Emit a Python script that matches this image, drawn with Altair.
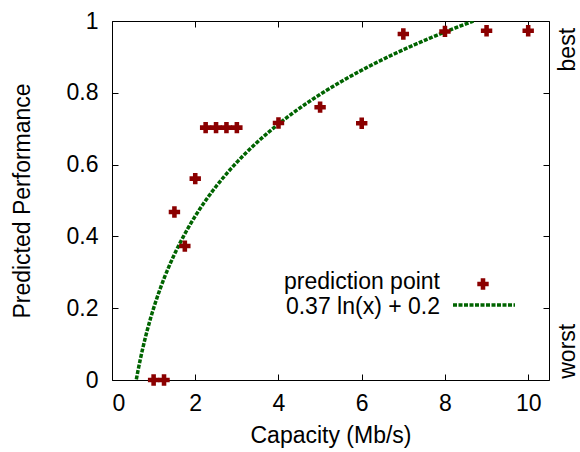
import altair as alt
import pandas as pd

# prediction points
capacity = [1.0, 1.25, 1.5, 1.75, 2.0, 2.25, 2.5, 2.75, 3.0, 4.0, 5.0, 6.0, 7.0, 8.0, 9.0, 10.0]
performance = [0.0, 0.0, 0.468, 0.373, 0.561, 0.703, 0.703, 0.703, 0.703, 0.716, 0.760, 0.715, 0.964, 0.971, 0.973, 0.973]

# fitted curve: a * ln(x) + b
fit_a = 0.37
fit_b = 0.2
fit_label = "0.37 ln(x) + 0.2"
point_label = "prediction point"

x_ticks = [0, 2, 4, 6, 8, 10]
y_ticks = [0, 0.2, 0.4, 0.6, 0.8, 1.0]
side_labels = ["best", "worst"]
side_values = [0.92, 0.08]

RED = "#8b0000"
GREEN = "#006400"
FONT = "Liberation Sans"
FS = 23

W, H = 437, 359

df = pd.DataFrame({"capacity": capacity, "performance": performance})

xscale = alt.Scale(domain=[0, 10.5], nice=False, zero=False)
yscale = alt.Scale(domain=[0, 1], nice=False, zero=False)

tick_axis = dict(domain=False, grid=False, tickSize=6, tickColor="black", offset=-6)
text_axis = dict(
    labelFont=FONT, labelFontSize=FS, labelColor="black",
    titleFont=FONT, titleFontSize=FS, titleColor="black", titleFontWeight="normal",
)

points = alt.Chart(df).mark_point(
    shape="cross", filled=True, size=130, color=RED, opacity=1
).encode(
    x=alt.X("capacity:Q", scale=xscale,
            axis=alt.Axis(orient="bottom", values=x_ticks, format="d",
                          title="Capacity (Mb/s)", labelPadding=12, titlePadding=9,
                          **tick_axis, **text_axis)),
    y=alt.Y("performance:Q", scale=yscale,
            axis=alt.Axis(orient="left", values=y_ticks, format=".1~f",
                          title="Predicted Performance", labelPadding=14, titlePadding=32,
                          **tick_axis, **text_axis)),
)

curve = alt.Chart(alt.sequence(0.5, 8.8, 0.005, as_="x")).transform_calculate(
    y=f"{fit_a} * log(datum.x) + {fit_b}"
).transform_filter(
    "datum.y >= 0 && datum.y <= 1.0"
).mark_line(
    color=GREEN, strokeWidth=3.5, strokeDash=[4, 1.5], clip=True
).encode(
    x=alt.X("x:Q", scale=xscale,
            axis=alt.Axis(orient="top", values=x_ticks, labels=False, title=None, **tick_axis)),
    y=alt.Y("y:Q", scale=yscale,
            axis=alt.Axis(orient="right", values=y_ticks, labels=False, title=None, **tick_axis)),
)

side = alt.Chart(pd.DataFrame({"label": side_labels, "value": side_values})).mark_text(
    angle=270, font=FONT, fontSize=FS, color="black", align="center", baseline="middle"
).encode(
    x=alt.value(W + 19),
    y=alt.Y("value:Q", scale=yscale, axis=None),
    text="label:N",
)

leg_text1 = alt.Chart(pd.DataFrame({"t": [point_label]})).mark_text(
    font=FONT, fontSize=FS, color="black", align="right", baseline="middle"
).encode(x=alt.value(328), y=alt.value(261), text="t:N")

leg_text2 = alt.Chart(pd.DataFrame({"t": [fit_label]})).mark_text(
    font=FONT, fontSize=FS, color="black", align="right", baseline="middle"
).encode(x=alt.value(328), y=alt.value(286), text="t:N")

leg_sym = alt.Chart(pd.DataFrame({"t": [point_label]})).mark_point(
    shape="cross", filled=True, size=130, color=RED, opacity=1
).encode(x=alt.value(371), y=alt.value(263))

leg_line = alt.Chart(pd.DataFrame({"t": [fit_label]})).mark_rule(
    color=GREEN, strokeWidth=3.5, strokeDash=[4, 1.5]
).encode(x=alt.value(341), x2=alt.value(403), y=alt.value(284))

chart = alt.layer(
    curve, points, side, leg_text1, leg_text2, leg_sym, leg_line
).resolve_axis(
    x="independent", y="independent"
).properties(
    width=W, height=H,
    autosize=alt.AutoSizeParams(type="none"),
    padding={"left": 112, "top": 21, "right": 31, "bottom": 72},
    background="white",
).configure_view(
    stroke="black", strokeWidth=1
)

chart.save("out.html", embed_options={"renderer": "svg", "actions": False})
